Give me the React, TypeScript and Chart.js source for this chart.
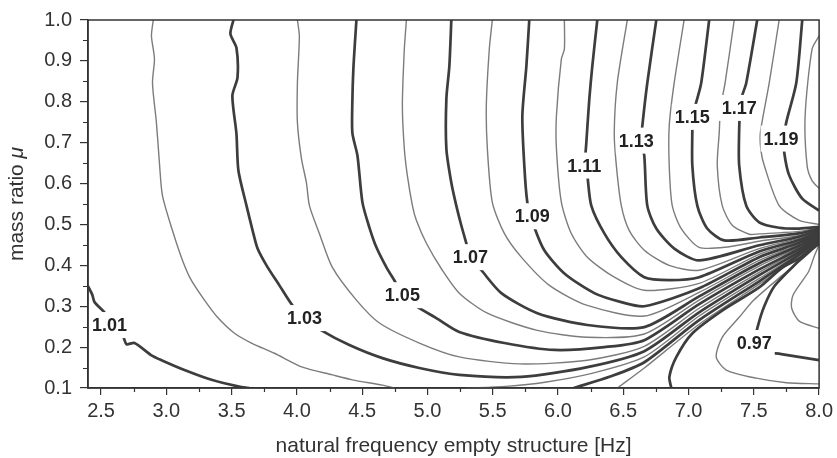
import React, { useEffect, useRef } from 'react';
import { Chart, registerables } from 'chart.js';

Chart.register(...registerables);

// ---- axes ----
const xTicks = [2.5, 3.0, 3.5, 4.0, 4.5, 5.0, 5.5, 6.0, 6.5, 7.0, 7.5, 8.0];
const yTicks = [0.1, 0.2, 0.3, 0.4, 0.5, 0.6, 0.7, 0.8, 0.9, 1.0];
const xMinorTicks = [2.75, 3.25, 3.75, 4.25, 4.75, 5.25, 5.75, 6.25, 6.75, 7.25, 7.75];
const yMinorTicks = [0.15, 0.25, 0.35, 0.45, 0.55, 0.65, 0.75, 0.85, 0.95];

// ---- contour lines (x = natural frequency [Hz], y = mass ratio), null = break ----
type P = [number, number] | null;
const c096: P[] = [[8.0, 0.45], [7.96, 0.42], [7.92, 0.385], [7.8, 0.327], [7.79, 0.295], [7.85, 0.263], [8.0, 0.246]];
const c097: P[] = [[8.0, 0.453], [7.92, 0.432], [7.825, 0.405], [7.66, 0.35], [7.58, 0.3], [7.53, 0.25], [7.51, 0.215], [7.56, 0.19], [7.71, 0.183], [8.0, 0.168]];
const c098: P[] = [[8.0, 0.456], [7.9, 0.424], [7.72, 0.376], [7.5, 0.315], [7.388, 0.273], [7.26, 0.225], [7.212, 0.176], [7.289, 0.144], [7.518, 0.124], [7.75, 0.113], [8.0, 0.11]];
const c099: P[] = [[6.868, 0.1], [6.853, 0.127], [6.907, 0.176], [7.03, 0.234], [7.26, 0.29], [7.541, 0.346], [7.72, 0.395], [7.847, 0.417], [8.0, 0.458]];
const c100: P[] = [[6.455, 0.1], [6.661, 0.149], [7.081, 0.256], [7.541, 0.354], [7.847, 0.422], [8.0, 0.46]];
const c101: P[] = [[2.4, 0.349], [2.434, 0.327], [2.45, 0.31], [2.526, 0.285], [2.6, 0.255], [2.672, 0.224], [2.695, 0.207], [2.756, 0.21], [2.886, 0.18], [2.963, 0.168], [3.139, 0.144], [3.346, 0.12], [3.575, 0.102], [3.637, 0.1], null,
  [6.12, 0.1], [6.4, 0.128], [6.661, 0.163], [7.081, 0.266], [7.541, 0.361], [7.847, 0.426], [8.0, 0.462]];
const c102: P[] = [[2.9, 1.0], [2.886, 0.961], [2.909, 0.905], [2.894, 0.846], [2.924, 0.749], [2.947, 0.651], [2.97, 0.571], [3.047, 0.485], [3.124, 0.412], [3.192, 0.363], [3.292, 0.315], [3.392, 0.273], [3.522, 0.234], [3.652, 0.21], [3.828, 0.185], [4.042, 0.151], [4.272, 0.132], [4.425, 0.12], [4.655, 0.107], [4.747, 0.1], null,
  [5.3, 0.1], [5.6, 0.104], [5.9, 0.114], [6.25, 0.135], [6.661, 0.176], [7.081, 0.276], [7.541, 0.368], [7.847, 0.429], [8.0, 0.464]];
const c103: P[] = [[3.514, 1.0], [3.491, 0.966], [3.537, 0.932], [3.545, 0.859], [3.506, 0.815], [3.537, 0.722], [3.552, 0.632], [3.614, 0.546], [3.661, 0.485], [3.699, 0.441], [3.767, 0.4], [3.866, 0.351], [3.966, 0.302], [4.06, 0.271], [4.188, 0.241], [4.402, 0.205], [4.655, 0.173], [4.938, 0.149], [5.244, 0.132], [5.719, 0.127], [6.225, 0.151], [6.661, 0.19], [7.081, 0.285], [7.541, 0.376], [7.847, 0.433], [8.0, 0.466]];
const c104: P[] = [[4.004, 1.0], [4.019, 0.961], [4.004, 0.846], [4.004, 0.749], [4.035, 0.661], [4.073, 0.602], [4.096, 0.546], [4.172, 0.478], [4.272, 0.395], [4.456, 0.315], [4.632, 0.259], [4.938, 0.21], [5.244, 0.176], [5.704, 0.159], [6.225, 0.168], [6.661, 0.202], [7.081, 0.295], [7.541, 0.383], [7.847, 0.437], [8.0, 0.468]];
const c105: P[] = [[4.456, 1.0], [4.433, 0.883], [4.425, 0.802], [4.425, 0.724], [4.464, 0.668], [4.502, 0.554], [4.555, 0.493], [4.609, 0.444], [4.686, 0.395], [4.747, 0.363], [4.81, 0.33], [4.915, 0.3], [5.068, 0.271], [5.244, 0.237], [5.589, 0.21], [5.972, 0.193], [6.355, 0.2], [6.661, 0.217], [7.081, 0.305], [7.541, 0.39], [7.847, 0.44], [8.0, 0.47]];
const c106: P[] = [[4.839, 1.0], [4.823, 0.929], [4.808, 0.79], [4.823, 0.685], [4.846, 0.62], [4.885, 0.546], [4.915, 0.51], [4.992, 0.454], [5.114, 0.388], [5.244, 0.332], [5.459, 0.283], [5.842, 0.241], [6.225, 0.224], [6.661, 0.232], [7.081, 0.315], [7.541, 0.398], [7.847, 0.444], [8.0, 0.472]];
const c107: P[] = [[5.183, 1.0], [5.168, 0.888], [5.145, 0.807], [5.145, 0.685], [5.183, 0.602], [5.221, 0.546], [5.259, 0.498], [5.298, 0.454], [5.329, 0.42], [5.413, 0.388], [5.566, 0.332], [5.842, 0.283], [6.225, 0.254], [6.661, 0.249], [7.081, 0.324], [7.541, 0.405], [7.847, 0.448], [8.0, 0.474]];
const c108: P[] = [[5.497, 1.0], [5.474, 0.929], [5.451, 0.79], [5.459, 0.685], [5.497, 0.554], [5.589, 0.478], [5.719, 0.42], [5.934, 0.351], [6.225, 0.302], [6.661, 0.276], [7.081, 0.334], [7.541, 0.412], [7.847, 0.451], [8.0, 0.476]];
const c109: P[] = [[5.78, 1.0], [5.758, 0.888], [5.727, 0.766], [5.742, 0.644], [5.765, 0.554], [5.796, 0.522], [5.819, 0.493], [5.895, 0.437], [6.049, 0.38], [6.278, 0.332], [6.485, 0.31], [6.661, 0.3], [7.081, 0.344], [7.541, 0.42], [7.847, 0.455], [8.0, 0.478]];
const c110: P[] = [[6.049, 1.0], [6.049, 0.929], [6.026, 0.905], [5.988, 0.766], [5.988, 0.685], [6.026, 0.554], [6.102, 0.478], [6.225, 0.42], [6.432, 0.371], [6.661, 0.339], [7.081, 0.356], [7.541, 0.427], [7.847, 0.459], [8.0, 0.48]];
const c111: P[] = [[6.301, 1.0], [6.263, 0.888], [6.24, 0.807], [6.217, 0.7], [6.209, 0.656], [6.225, 0.62], [6.255, 0.546], [6.355, 0.478], [6.485, 0.42], [6.661, 0.371], [6.852, 0.364], [7.081, 0.371], [7.541, 0.434], [7.847, 0.462], [8.0, 0.482]];
const c112: P[] = [[6.531, 1.0], [6.454, 0.846], [6.431, 0.724], [6.447, 0.644], [6.485, 0.546], [6.546, 0.485], [6.661, 0.437], [6.852, 0.4], [7.081, 0.388], [7.541, 0.441], [7.847, 0.466], [8.0, 0.484]];
const c113: P[] = [[6.753, 1.0], [6.684, 0.846], [6.646, 0.741], [6.638, 0.705], [6.661, 0.668], [6.684, 0.546], [6.753, 0.49], [6.891, 0.441], [7.081, 0.412], [7.541, 0.449], [7.847, 0.47], [8.0, 0.486]];
const c114: P[] = [[6.966, 1.0], [6.89, 0.846], [6.852, 0.741], [6.852, 0.644], [6.875, 0.546], [6.944, 0.49], [7.081, 0.444], [7.3, 0.445], [7.541, 0.459], [7.847, 0.473], [8.0, 0.488]];
const c115: P[] = [[7.158, 1.0], [7.097, 0.846], [7.058, 0.798], [7.029, 0.766], [7.029, 0.734], [7.029, 0.644], [7.067, 0.546], [7.143, 0.49], [7.273, 0.461], [7.541, 0.468], [7.847, 0.478], [8.0, 0.49]];
const c116: P[] = [[7.35, 1.0], [7.28, 0.846], [7.245, 0.785], [7.235, 0.724], [7.22, 0.644], [7.258, 0.546], [7.335, 0.498], [7.465, 0.476], [7.541, 0.477], [7.847, 0.483], [8.0, 0.492]];
const c117: P[] = [[7.526, 1.0], [7.442, 0.846], [7.411, 0.815], [7.396, 0.785], [7.388, 0.734], [7.388, 0.644], [7.442, 0.546], [7.541, 0.505], [7.694, 0.492], [7.847, 0.49], [8.0, 0.494]];
const c118: P[] = [[7.694, 1.0], [7.618, 0.846], [7.55, 0.724], [7.555, 0.68], [7.58, 0.644], [7.694, 0.546], [7.847, 0.51], [8.0, 0.5]];
const c119: P[] = [[7.871, 1.0], [7.825, 0.846], [7.748, 0.749], [7.733, 0.71], [7.733, 0.676], [7.771, 0.62], [7.871, 0.563], [8.0, 0.534]];
const c120: P[] = [[8.0, 0.961], [7.946, 0.929], [7.893, 0.766], [7.908, 0.644], [7.946, 0.607], [8.0, 0.588]];

const levels = [0.96, 0.97, 0.98, 0.99, 1.0, 1.01, 1.02, 1.03, 1.04, 1.05, 1.06, 1.07, 1.08, 1.09, 1.1, 1.11, 1.12, 1.13, 1.14, 1.15, 1.16, 1.17, 1.18, 1.19, 1.2];
const levelLines = [c096, c097, c098, c099, c100, c101, c102, c103, c104, c105, c106, c107, c108, c109, c110, c111, c112, c113, c114, c115, c116, c117, c118, c119, c120];

// ---- contour labels ----
const labelText = ['1.01', '1.03', '1.05', '1.07', '1.09', '1.11', '1.13', '1.15', '1.17', '1.19', '0.97'];
const labelX = [2.565, 4.058, 4.808, 5.329, 5.803, 6.201, 6.6, 7.029, 7.388, 7.709, 7.503];
const labelY = [0.254, 0.271, 0.327, 0.42, 0.52, 0.644, 0.705, 0.763, 0.785, 0.71, 0.21];

const xTitle = 'natural frequency empty structure [Hz]';
const yTitleMain = 'mass ratio ';
const yTitleSymbol = 'μ';

const FONT = '"Liberation Sans", Arial, Helvetica, sans-serif';
const AXIS_COLOR = '#333333';

function buildDatasets() {
  const ds: any[] = [];
  levels.forEach((lv, i) => {
    const thick = Math.round(lv * 100) % 2 === 1;
    const branches: { x: number; y: number }[][] = [[]];
    for (const p of levelLines[i]) {
      if (p === null) branches.push([]);
      else branches[branches.length - 1].push({ x: p[0], y: p[1] });
    }
    for (const b of branches) {
      if (b.length < 2) continue;
      ds.push({
        label: lv.toFixed(2),
        data: b,
        borderColor: thick ? '#3d3d3d' : '#7c7c7c',
        borderWidth: thick ? 2.7 : 1.4,
        pointRadius: 0,
        tension: 0.25,
        fill: false,
        order: thick ? 0 : 1,
      });
    }
  });
  return ds;
}

const labelPlugin = {
  id: 'contourLabels',
  afterDatasetsDraw(chart: any) {
    const { ctx, scales } = chart;
    ctx.save();
    ctx.font = `bold 18px ${FONT}`;
    ctx.textAlign = 'center';
    ctx.textBaseline = 'middle';
    labelText.forEach((t, i) => {
      const px = scales.x.getPixelForValue(labelX[i]);
      const py = scales.y.getPixelForValue(labelY[i]);
      const w = ctx.measureText(t).width;
      ctx.fillStyle = '#ffffff';
      ctx.fillRect(px - w / 2 - 3, py - 13, w + 6, 26);
      ctx.fillStyle = '#222222';
      ctx.fillText(t, px, py + 1);
    });
    ctx.restore();
  },
};

const framePlugin = {
  id: 'frameAndTitles',
  afterDraw(chart: any) {
    const { ctx, chartArea: a, scales } = chart;
    ctx.save();
    ctx.strokeStyle = AXIS_COLOR;
    ctx.lineWidth = 1.5;
    ctx.strokeRect(a.left, a.top, a.right - a.left, a.bottom - a.top);
    ctx.lineWidth = 1.2;
    ctx.beginPath();
    for (const v of xMinorTicks) {
      const x = Math.round(scales.x.getPixelForValue(v)) + 0.5;
      ctx.moveTo(x, a.bottom);
      ctx.lineTo(x, a.bottom + 4);
    }
    for (const v of yMinorTicks) {
      const y = Math.round(scales.y.getPixelForValue(v)) + 0.5;
      ctx.moveTo(a.left, y);
      ctx.lineTo(a.left - 5, y);
    }
    ctx.stroke();

    ctx.fillStyle = AXIS_COLOR;
    ctx.font = `21px ${FONT}`;
    ctx.textAlign = 'center';
    ctx.textBaseline = 'alphabetic';
    ctx.fillText(xTitle, (a.left + a.right) / 2, 452);

    ctx.translate(23, (a.top + a.bottom) / 2);
    ctx.rotate(-Math.PI / 2);
    ctx.textAlign = 'left';
    ctx.font = `21px ${FONT}`;
    const w1 = ctx.measureText(yTitleMain).width;
    ctx.font = `italic 21px ${FONT}`;
    const w2 = ctx.measureText(yTitleSymbol).width;
    const start = -(w1 + w2) / 2;
    ctx.font = `21px ${FONT}`;
    ctx.fillText(yTitleMain, start, 0);
    ctx.font = `italic 21px ${FONT}`;
    ctx.fillText(yTitleSymbol, start + w1, 0);
    ctx.restore();
  },
};

export default function App() {
  const ref = useRef<HTMLCanvasElement | null>(null);
  useEffect(() => {
    if (!ref.current) return;
    const chart = new Chart(ref.current, {
      type: 'line',
      data: { datasets: buildDatasets() },
      options: {
        animation: false,
        responsive: false,
        layout: { padding: { top: 19, right: 17, left: 0, bottom: 0 } },
        plugins: { legend: { display: false }, tooltip: { enabled: false } },
        scales: {
          x: {
            type: 'linear',
            min: 2.4,
            max: 8.0,
            afterBuildTicks: (s: any) => { s.ticks = xTicks.map((v) => ({ value: v })); },
            afterFit: (s: any) => { s.height = 70; },
            ticks: {
              callback: (v: any) => Number(v).toFixed(1),
              font: { family: FONT, size: 20 },
              color: AXIS_COLOR,
              padding: 4,
              maxRotation: 0,
              autoSkip: false,
            },
            grid: { drawOnChartArea: false, drawTicks: true, tickLength: 7, color: AXIS_COLOR, lineWidth: 1.2 },
            border: { display: true, color: AXIS_COLOR, width: 1.5 },
          },
          y: {
            type: 'linear',
            min: 0.1,
            max: 1.0,
            afterBuildTicks: (s: any) => { s.ticks = yTicks.map((v) => ({ value: v })); },
            afterFit: (s: any) => { s.width = 88; },
            ticks: {
              callback: (v: any) => Number(v).toFixed(1),
              font: { family: FONT, size: 20 },
              color: AXIS_COLOR,
              padding: 8,
              autoSkip: false,
            },
            grid: { drawOnChartArea: false, drawTicks: true, tickLength: 8, color: AXIS_COLOR, lineWidth: 1.2 },
            border: { display: true, color: AXIS_COLOR, width: 1.5 },
          },
        },
      },
      plugins: [labelPlugin, framePlugin],
    } as any);
    return () => chart.destroy();
  }, []);
  return (
    <div style={{ position: 'absolute', left: 0, top: 0, width: 837, height: 458, background: '#fff' }}>
      <canvas ref={ref} width={837} height={458} />
    </div>
  );
}
